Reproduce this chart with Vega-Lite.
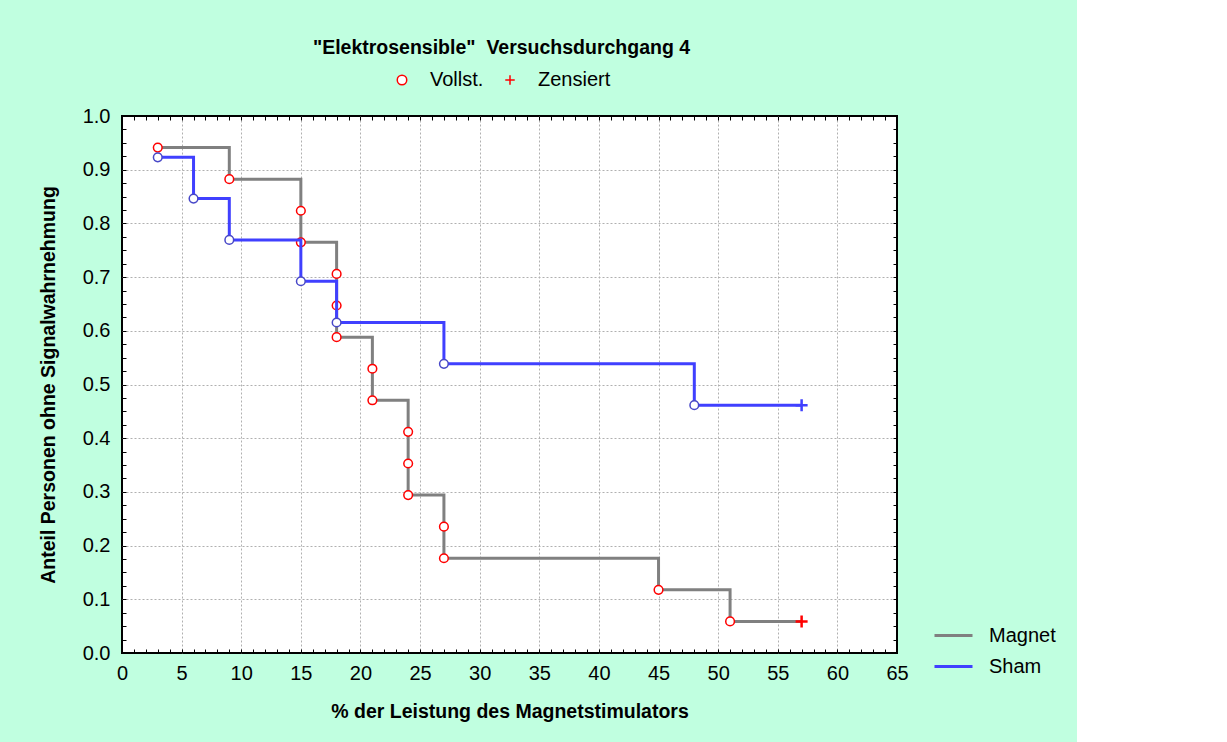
{
  "$schema": "https://vega.github.io/schema/vega-lite/v6.json",
  "width": 775,
  "height": 537,
  "autosize": {"type": "none"},
  "padding": {"left": 122, "top": 116, "right": 180, "bottom": 89},
  "background": "#C0FFE0",
  "config": {
    "font": "Liberation Sans",
    "view": {"fill": "white", "stroke": "black", "strokeWidth": 2},
    "axis": {"labelColor": "black", "titleColor": "black", "labelFont": "Liberation Sans", "titleFont": "Liberation Sans"},
    "legend": {"labelFont": "Liberation Sans", "labelColor": "black"}
  },
  "title": {
    "text": "\"Elektrosensible\"\u00a0 Versuchsdurchgang 4",
    "font": "Liberation Sans",
    "fontSize": 19.5,
    "fontWeight": "bold",
    "color": "black",
    "anchor": "middle",
    "frame": "group",
    "dx": -8,
    "offset": 12
  },
  "data": {
    "values": [
      {"Gruppe": "Magnet", "Leistung": 3, "Anteil": 0.9412, "Status": "Vollst."},
      {"Gruppe": "Magnet", "Leistung": 9, "Anteil": 0.8824, "Status": "Vollst."},
      {"Gruppe": "Magnet", "Leistung": 15, "Anteil": 0.8235, "Status": "Vollst."},
      {"Gruppe": "Magnet", "Leistung": 15, "Anteil": 0.7647, "Status": "Vollst."},
      {"Gruppe": "Magnet", "Leistung": 18, "Anteil": 0.7059, "Status": "Vollst."},
      {"Gruppe": "Magnet", "Leistung": 18, "Anteil": 0.6471, "Status": "Vollst."},
      {"Gruppe": "Magnet", "Leistung": 18, "Anteil": 0.5882, "Status": "Vollst."},
      {"Gruppe": "Magnet", "Leistung": 21, "Anteil": 0.5294, "Status": "Vollst."},
      {"Gruppe": "Magnet", "Leistung": 21, "Anteil": 0.4706, "Status": "Vollst."},
      {"Gruppe": "Magnet", "Leistung": 24, "Anteil": 0.4118, "Status": "Vollst."},
      {"Gruppe": "Magnet", "Leistung": 24, "Anteil": 0.3529, "Status": "Vollst."},
      {"Gruppe": "Magnet", "Leistung": 24, "Anteil": 0.2941, "Status": "Vollst."},
      {"Gruppe": "Magnet", "Leistung": 27, "Anteil": 0.2353, "Status": "Vollst."},
      {"Gruppe": "Magnet", "Leistung": 27, "Anteil": 0.1765, "Status": "Vollst."},
      {"Gruppe": "Magnet", "Leistung": 45, "Anteil": 0.1176, "Status": "Vollst."},
      {"Gruppe": "Magnet", "Leistung": 51, "Anteil": 0.0588, "Status": "Vollst."},
      {"Gruppe": "Magnet", "Leistung": 57, "Anteil": 0.0588, "Status": "Zensiert"},
      {"Gruppe": "Sham", "Leistung": 3, "Anteil": 0.9231, "Status": "Vollst."},
      {"Gruppe": "Sham", "Leistung": 6, "Anteil": 0.8462, "Status": "Vollst."},
      {"Gruppe": "Sham", "Leistung": 9, "Anteil": 0.7692, "Status": "Vollst."},
      {"Gruppe": "Sham", "Leistung": 15, "Anteil": 0.6923, "Status": "Vollst."},
      {"Gruppe": "Sham", "Leistung": 18, "Anteil": 0.6154, "Status": "Vollst."},
      {"Gruppe": "Sham", "Leistung": 27, "Anteil": 0.5385, "Status": "Vollst."},
      {"Gruppe": "Sham", "Leistung": 48, "Anteil": 0.4615, "Status": "Vollst."},
      {"Gruppe": "Sham", "Leistung": 57, "Anteil": 0.4615, "Status": "Zensiert"}
    ]
  },
  "layer": [
    {
      "transform": [{"filter": "datum.Gruppe == 'Magnet'"}],
      "mark": {"type": "line", "interpolate": "step-after", "strokeWidth": 3},
      "encoding": {
        "x": {
          "field": "Leistung", "type": "quantitative",
          "scale": {"domain": [0, 65], "nice": false, "zero": true},
          "axis": {
            "orient": "bottom",
            "values": [0, 5, 10, 15, 20, 25, 30, 35, 40, 45, 50, 55, 60, 65],
            "grid": true, "gridDash": [2, 2], "gridColor": "#b0b0b0", "gridWidth": 1,
            "gridOpacity": {"condition": {"test": "datum.value == 0 || datum.value == 65", "value": 0}, "value": 1},
            "ticks": false, "domain": false,
            "labelFontSize": 20, "labelPadding": 10, "labelFlush": false, "labelOverlap": false,
            "title": "% der Leistung des Magnetstimulators",
            "titleFontSize": 19.5, "titleFontWeight": "bold", "titlePadding": 19
          }
        },
        "y": {
          "field": "Anteil", "type": "quantitative",
          "scale": {"domain": [0, 1], "nice": false},
          "axis": {
            "orient": "left",
            "values": [0, 0.1, 0.2, 0.3, 0.4, 0.5, 0.6, 0.7, 0.8, 0.9, 1.0],
            "format": ".1f",
            "grid": true, "gridDash": [2, 2], "gridColor": "#b0b0b0", "gridWidth": 1,
            "gridOpacity": {"condition": {"test": "datum.value == 0 || datum.value == 1", "value": 0}, "value": 1},
            "ticks": false, "domain": false,
            "labelFontSize": 20, "labelPadding": 12, "labelFlush": false, "labelOverlap": false,
            "title": "Anteil Personen ohne Signalwahrnehmung",
            "titleFontSize": 19.5, "titleFontWeight": "bold", "titlePadding": 24
          }
        },
        "stroke": {
          "field": "Gruppe", "type": "nominal",
          "scale": {"domain": ["Magnet", "Sham"], "range": ["#808080", "#4040FF"]},
          "legend": {
            "title": null, "orient": "none", "legendX": 811, "legendY": 499,
            "symbolType": "stroke", "symbolSize": 1444, "symbolStrokeWidth": 3,
            "labelFontSize": 20, "labelOffset": 15, "rowPadding": -8
          }
        },
        "order": [
          {"field": "Leistung", "type": "quantitative"},
          {"field": "Anteil", "type": "quantitative", "sort": "descending"}
        ]
      }
    },
    {
      "transform": [{"filter": "datum.Gruppe == 'Magnet' && datum.Status == 'Vollst.'"}],
      "mark": {"type": "point", "filled": true, "fill": "white", "stroke": "#FF0000", "strokeWidth": 1.5, "size": 75, "opacity": 1},
      "encoding": {
        "x": {
          "field": "Leistung", "type": "quantitative",
          "scale": {"domain": [0, 65], "nice": false},
          "axis": {
            "orient": "bottom",
            "values": [0, 1, 2, 3, 4, 5, 6, 7, 8, 9, 10, 11, 12, 13, 14, 15, 16, 17, 18, 19, 20, 21, 22, 23, 24, 25, 26, 27, 28, 29, 30, 31, 32, 33, 34, 35, 36, 37, 38, 39, 40, 41, 42, 43, 44, 45, 46, 47, 48, 49, 50, 51, 52, 53, 54, 55, 56, 57, 58, 59, 60, 61, 62, 63, 64, 65],
            "ticks": true, "tickSize": -4, "tickColor": "black", "tickWidth": 1,
            "labels": false, "domain": false, "grid": false, "title": null
          }
        },
        "y": {
          "field": "Anteil", "type": "quantitative",
          "scale": {"domain": [0, 1], "nice": false},
          "axis": {
            "orient": "left",
            "values": [0, 0.025, 0.05, 0.075, 0.1, 0.125, 0.15, 0.175, 0.2, 0.225, 0.25, 0.275, 0.3, 0.325, 0.35, 0.375, 0.4, 0.425, 0.45, 0.475, 0.5, 0.525, 0.55, 0.575, 0.6, 0.625, 0.65, 0.675, 0.7, 0.725, 0.75, 0.775, 0.8, 0.825, 0.85, 0.875, 0.9, 0.925, 0.95, 0.975, 1.0],
            "ticks": true, "tickSize": -4, "tickColor": "black", "tickWidth": 1,
            "labels": false, "domain": false, "grid": false, "title": null
          }
        },
        "shape": {
          "field": "Status", "type": "nominal",
          "scale": {"domain": ["Vollst.", "Zensiert"], "range": ["circle", "M-1,0H1M0,-1V1"]},
          "legend": {
            "title": null, "orient": "none", "direction": "horizontal",
            "legendX": 270, "legendY": -46,
            "symbolSize": 90,
            "labelFontSize": 20, "labelOffset": 18, "columnPadding": 16,
            "encode": {
              "symbols": {
                "update": {
                  "stroke": {"value": "#FF0000"},
                  "fill": {"value": "white"},
                  "strokeWidth": [{"test": "datum.value == 'Zensiert'", "value": 2.6}, {"value": 1.8}],
                  "opacity": {"value": 1}
                }
              }
            }
          }
        }
      }
    },
    {
      "transform": [{"filter": "datum.Gruppe == 'Sham'"}],
      "mark": {"type": "line", "interpolate": "step-after", "strokeWidth": 3},
      "encoding": {
        "x": {
          "field": "Leistung", "type": "quantitative",
          "scale": {"domain": [0, 65], "nice": false},
          "axis": {
            "orient": "top",
            "values": [0, 1, 2, 3, 4, 5, 6, 7, 8, 9, 10, 11, 12, 13, 14, 15, 16, 17, 18, 19, 20, 21, 22, 23, 24, 25, 26, 27, 28, 29, 30, 31, 32, 33, 34, 35, 36, 37, 38, 39, 40, 41, 42, 43, 44, 45, 46, 47, 48, 49, 50, 51, 52, 53, 54, 55, 56, 57, 58, 59, 60, 61, 62, 63, 64, 65],
            "ticks": true, "tickSize": -4, "tickColor": "black", "tickWidth": 1,
            "labels": false, "domain": false, "grid": false, "title": null
          }
        },
        "y": {
          "field": "Anteil", "type": "quantitative",
          "scale": {"domain": [0, 1], "nice": false},
          "axis": {
            "orient": "right",
            "values": [0, 0.025, 0.05, 0.075, 0.1, 0.125, 0.15, 0.175, 0.2, 0.225, 0.25, 0.275, 0.3, 0.325, 0.35, 0.375, 0.4, 0.425, 0.45, 0.475, 0.5, 0.525, 0.55, 0.575, 0.6, 0.625, 0.65, 0.675, 0.7, 0.725, 0.75, 0.775, 0.8, 0.825, 0.85, 0.875, 0.9, 0.925, 0.95, 0.975, 1.0],
            "ticks": true, "tickSize": -4, "tickColor": "black", "tickWidth": 1,
            "labels": false, "domain": false, "grid": false, "title": null
          }
        },
        "stroke": {"field": "Gruppe", "type": "nominal", "scale": {"domain": ["Magnet", "Sham"], "range": ["#808080", "#4040FF"]}},
        "order": [
          {"field": "Leistung", "type": "quantitative"},
          {"field": "Anteil", "type": "quantitative", "sort": "descending"}
        ]
      }
    },
    {
      "transform": [{"filter": "datum.Gruppe == 'Sham' && datum.Status == 'Vollst.'"}],
      "mark": {"type": "point", "shape": "circle", "filled": true, "fill": "white", "stroke": "#4848C8", "strokeWidth": 1.5, "size": 75, "opacity": 1},
      "encoding": {
        "x": {"field": "Leistung", "type": "quantitative", "scale": {"domain": [0, 65], "nice": false}, "axis": null},
        "y": {"field": "Anteil", "type": "quantitative", "scale": {"domain": [0, 1], "nice": false}, "axis": null}
      }
    },
    {
      "transform": [{"filter": "datum.Status == 'Zensiert'"}],
      "mark": {"type": "point", "shape": "M-1,0H1M0,-1V1", "filled": false, "strokeWidth": 2.5, "size": 144, "opacity": 1},
      "encoding": {
        "x": {"field": "Leistung", "type": "quantitative", "scale": {"domain": [0, 65], "nice": false}, "axis": null},
        "y": {"field": "Anteil", "type": "quantitative", "scale": {"domain": [0, 1], "nice": false}, "axis": null},
        "stroke": {"condition": {"test": "datum.Gruppe == 'Magnet'", "value": "#FF0000"}, "value": "#4040FF"}
      }
    }
  ],
  "resolve": {"axis": {"x": "independent", "y": "independent"}}
}
